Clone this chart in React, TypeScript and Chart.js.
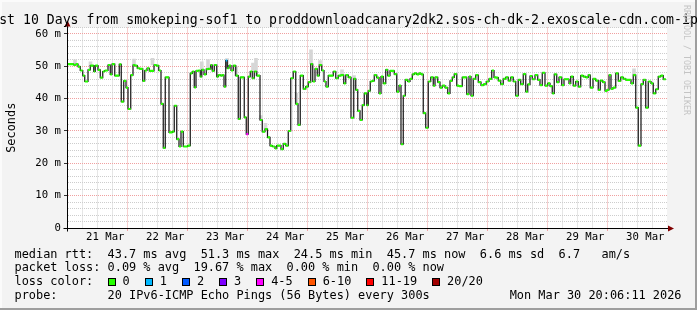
import React, { useEffect, useRef } from "react";
import { Chart, registerables } from "chart.js";

Chart.register(...registerables);

// ---------- text ----------
const TITLE = "Last 10 Days from smokeping-sof1 to proddownloadcanary2dk2.sos-ch-dk-2.exoscale-cdn.com-ipv6";
const Y_LABEL = "Seconds";
const WATERMARK = "RRDTOOL / TOBI OETIKER";
const LEGEND_RTT = "median rtt:  43.7 ms avg  51.3 ms max  24.5 ms min  45.7 ms now  6.6 ms sd  6.7   am/s";
const LEGEND_LOSS = "packet loss: 0.09 % avg  19.67 % max  0.00 % min  0.00 % now";
const LEGEND_COLOR_TITLE = "loss color:";
const LEGEND_PROBE = "probe:       20 IPv6-ICMP Echo Pings (56 Bytes) every 300s";
const DATE_TEXT = "Mon Mar 30 20:06:11 2026";

// ---------- axes ----------
const START_DAY = 20 + 20.7 / 24; // 20 Mar 20:42
const SPAN_DAYS = 10;
const DAY_LABELS = ["21 Mar", "22 Mar", "23 Mar", "24 Mar", "25 Mar", "26 Mar", "27 Mar", "28 Mar", "29 Mar", "30 Mar"];
const Y_MAX = 62;
const Y_STEP = 2;
const X_STEP_DAYS = 0.25;

// ---------- loss colours ----------
const LOSS_LABELS = ["0", "1", "2", "3", "4-5", "6-10", "11-19", "20/20"];
const LOSS_COLORS = ["#26ff00", "#00b8ff", "#0059ff", "#7e00ff", "#ff00ff", "#ff5500", "#ff0000", "#a10000"];

// ---------- median rtt (ms), hours since start ----------
const HOURS = [
  0.0, 2.7, 3.6, 4.4, 5.3, 6.3, 7.1, 8.4, 9.3, 10.7, 11.3, 12.4, 13.3, 14.3, 15.1, 16.4, 17.3, 18.0, 19.1, 20.9,
  21.7, 22.7, 23.6, 24.4, 25.5, 26.4, 27.1, 28.1, 29.1, 30.3, 31.1, 32.0, 32.9, 34.8, 35.7, 36.7, 37.6, 38.5, 39.3, 40.8,
  42.1, 42.9, 43.9, 44.8, 45.6, 46.5, 48.3, 49.3, 50.1, 50.9, 51.6, 52.5, 53.3, 53.9, 54.8, 55.7, 56.5, 57.5, 58.1, 58.9,
  59.9, 60.5, 61.5, 62.1, 62.8, 63.5, 64.1, 64.8, 65.6, 66.5, 67.5, 68.5, 69.3, 70.9, 71.7, 72.5, 73.3, 74.1, 74.9, 75.9,
  77.2, 78.1, 79.2, 80.2, 81.2, 82.1, 83.2, 83.9, 85.6, 86.5, 87.5, 88.5, 89.5, 90.5, 91.5, 92.4, 93.3, 94.5, 95.5, 96.5,
  97.5, 98.3, 99.2, 100.1, 100.9, 101.9, 102.8, 103.6, 104.5, 106.5, 107.5, 108.5, 109.6, 110.7, 111.5, 112.5, 113.6, 114.7, 115.5, 116.3,
  117.2, 118.1, 118.9, 119.9, 120.5, 121.3, 122.1, 122.9, 123.9, 124.8, 125.6, 126.5, 127.5, 128.3, 129.2, 130.9, 131.9, 132.8, 133.6, 134.5,
  135.3, 136.3, 137.2, 138.1, 138.9, 139.9, 140.8, 141.6, 142.5, 143.5, 144.5, 145.5, 146.5, 147.2, 148.3, 149.2, 150.1, 151.2, 152.3, 153.2,
  154.1, 154.9, 155.9, 156.8, 158.1, 159.9, 160.8, 161.6, 162.5, 163.5, 164.5, 165.6, 166.7, 167.7, 168.8, 169.9, 170.8, 171.6, 172.5, 173.5,
  174.5, 175.5, 176.5, 177.5, 178.5, 179.5, 180.5, 181.5, 182.5, 183.5, 184.3, 185.2, 186.1, 187.2, 188.3, 189.2, 190.1, 191.2, 192.3, 193.2,
  194.1, 194.9, 195.9, 196.8, 197.9, 198.8, 200.8, 201.5, 202.5, 203.5, 204.5, 205.5, 206.5, 207.5, 208.5, 209.3, 210.4, 211.5, 212.5, 213.3,
  214.3, 215.2, 216.0, 216.8, 217.6, 218.4, 219.5, 220.5, 221.5, 222.5, 223.5, 225.6, 226.5, 227.5, 228.5, 229.6, 230.5, 231.5, 232.5, 233.6,
  234.5, 235.5, 236.5, 237.5, 238.5,
];
const MEDIAN_MS = [
  50.7, 50.4, 50.7, 49.9, 48.7, 47.1, 45.3, 48.9, 50.2, 48.4, 50.2, 48.9, 46.5, 48.4, 48.7, 50.4, 47.5, 50.7, 47.1, 50.6,
  39.1, 45.5, 43.4, 36.8, 47.3, 50.4, 50.2, 49.4, 49.2, 45.5, 48.7, 49.4, 48.6, 50.4, 50.2, 48.7, 38.4, 24.8, 46.6, 29.6,
  29.8, 37.8, 27.5, 25.2, 29.8, 25.2, 25.5, 47.8, 48.4, 43.5, 48.6, 48.7, 46.8, 48.9, 47.5, 49.1, 49.2, 50.4, 48.6, 50.4,
  46.8, 47.3, 47.1, 47.3, 43.7, 51.8, 49.4, 50.2, 48.7, 50.2, 47.1, 33.7, 46.6, 34.2, 29.0, 46.8, 48.4, 46.3, 48.4, 47.1,
  33.4, 29.8, 30.6, 28.0, 25.5, 25.2, 24.6, 25.5, 24.4, 26.0, 25.5, 30.0, 46.3, 48.4, 38.4, 31.9, 47.1, 43.0, 43.7, 45.1,
  50.7, 45.3, 49.2, 47.1, 50.4, 48.7, 45.3, 43.7, 47.1, 48.4, 46.3, 47.1, 47.3, 44.7, 47.3, 46.6, 34.1, 46.1, 42.7, 36.2,
  33.4, 38.0, 41.6, 38.0, 42.4, 45.3, 45.5, 47.3, 46.5, 41.6, 46.8, 44.7, 48.9, 47.1, 48.6, 47.6, 42.2, 44.0, 25.9, 40.9,
  45.8, 45.3, 46.1, 47.5, 47.8, 47.5, 47.8, 47.5, 35.5, 31.0, 45.3, 46.6, 44.0, 46.6, 45.1, 43.4, 44.0, 43.4, 41.6, 45.5,
  46.6, 47.6, 44.0, 43.9, 46.6, 41.4, 46.8, 40.9, 46.1, 47.3, 45.1, 44.2, 44.5, 45.3, 46.1, 48.7, 46.6, 46.5, 45.6, 44.5,
  46.1, 46.6, 45.6, 46.6, 45.3, 40.9, 45.8, 44.5, 47.6, 42.2, 44.4, 47.0, 46.0, 47.3, 45.8, 44.2, 48.0, 44.0, 44.7, 43.9,
  41.6, 47.5, 45.1, 46.6, 44.2, 46.0, 44.7, 46.8, 44.0, 45.3, 43.7, 47.1, 46.8, 46.6, 47.3, 43.4, 46.1, 45.6, 42.7, 45.6,
  45.1, 42.4, 42.7, 47.3, 43.0, 43.4, 47.8, 45.5, 46.6, 46.1, 45.8, 44.7, 47.3, 37.2, 25.5, 44.5, 45.8, 37.2, 45.3, 44.7,
  41.6, 42.9, 46.8, 47.1, 46.0,
];
const END_HOUR = 239.5;

// points with packet loss (index into LOSS_LABELS)
const LOSS_HOURS = [63.5, 71.7];
const LOSS_LEVEL = [1, 4];

// ---------- smoke (ping spread), ms ----------
const SMOKE_HOURS = [3.2, 9.4, 26.8, 34.2, 53.9, 56.4, 64.0, 67.6, 74.4, 75.6, 77.6, 79.4, 91.8, 97.6, 101.2, 110.0, 114.8, 226.8];
const SMOKE_LOW = [50.7, 50.2, 50.4, 50.4, 48.9, 49.2, 49.4, 47.1, 48.4, 47.1, 33.4, 30.6, 38.4, 50.7, 50.4, 47.3, 46.1, 47.3];
const SMOKE_HIGH = [52.0, 51.4, 52.2, 52.5, 51.4, 52.1, 52.4, 49.9, 51.0, 52.5, 34.8, 32.4, 41.7, 55.1, 51.8, 48.9, 47.1, 49.2];

// ---------- style ----------
const MONO = "'DejaVu Sans Mono', monospace";
const MAJOR_GRID = "#f0a0a0";
const MINOR_GRID = "#cdcdcd";
const BG = "#f3f3f3";

const isWhole = (v: number) => Math.abs(v - Math.round(v)) < 1e-6;

const decorPlugin = {
  id: "rrdDecor",
  beforeDraw(chart: any) {
    const { ctx, width, height, chartArea: a } = chart;
    ctx.save();
    ctx.fillStyle = BG;
    ctx.fillRect(0, 0, width, height);
    ctx.fillStyle = "#fbfbfb";
    ctx.fillRect(0, 0, width, 2);
    ctx.fillRect(0, 0, 2, height);
    ctx.fillStyle = "#9e9e9e";
    ctx.fillRect(0, height - 2, width, 2);
    ctx.fillRect(width - 2, 0, 2, height);
    ctx.fillStyle = "#ffffff";
    ctx.fillRect(a.left, a.top, a.right - a.left, a.bottom - a.top);
    ctx.restore();
  },
  afterDraw(chart: any) {
    const { ctx, width, chartArea: a } = chart;
    ctx.save();
    // axis extensions
    const ax = Math.round(a.left - 0.5) + 0.5;
    const ay = Math.round(a.bottom - 0.5) + 0.5;
    ctx.strokeStyle = "#000";
    ctx.lineWidth = 1;
    ctx.beginPath();
    ctx.moveTo(ax - 4, ay);
    ctx.lineTo(a.right + 2, ay);
    ctx.moveTo(ax, a.top - 2);
    ctx.lineTo(ax, ay + 3);
    ctx.stroke();
    // arrows
    ctx.fillStyle = "#800000";
    ctx.beginPath();
    ctx.moveTo(ax, a.top - 7);
    ctx.lineTo(ax - 3, a.top - 1);
    ctx.lineTo(ax + 3, a.top - 1);
    ctx.closePath();
    ctx.fill();
    ctx.beginPath();
    ctx.moveTo(a.right + 7, ay);
    ctx.lineTo(a.right + 1, ay - 3);
    ctx.lineTo(a.right + 1, ay + 3);
    ctx.closePath();
    ctx.fill();

    // title
    ctx.fillStyle = "#000";
    ctx.font = `13.2px ${MONO}`;
    ctx.textAlign = "center";
    ctx.textBaseline = "alphabetic";
    ctx.fillText(TITLE, width / 2, 23.5);

    // y axis label
    ctx.save();
    ctx.font = `11.9px ${MONO}`;
    ctx.translate(15, (a.top + a.bottom) / 2);
    ctx.rotate(-Math.PI / 2);
    ctx.textAlign = "center";
    ctx.fillText(Y_LABEL, 0, 0);
    ctx.restore();

    // watermark
    ctx.save();
    ctx.font = `8.3px ${MONO}`;
    ctx.fillStyle = "#c4c4c4";
    ctx.translate(684, 5);
    ctx.rotate(Math.PI / 2);
    ctx.textAlign = "left";
    ctx.fillText(WATERMARK, 0, 0);
    ctx.restore();

    // legend
    ctx.font = `11.9px ${MONO}`;
    ctx.textAlign = "left";
    ctx.fillStyle = "#000";
    const lx = 14.5;
    const rows = [257.5, 271.4, 285.3, 299.2];
    ctx.fillText(LEGEND_RTT, lx, rows[0]);
    ctx.fillText(LEGEND_LOSS, lx, rows[1]);
    ctx.fillText(LEGEND_COLOR_TITLE, lx, rows[2]);
    ctx.fillText(LEGEND_PROBE, lx, rows[3]);
    const cw = ctx.measureText("0").width;
    let bx = lx + 13 * cw;
    LOSS_LABELS.forEach((lab, i) => {
      const x0 = Math.round(bx);
      ctx.fillStyle = "#000";
      ctx.fillRect(x0, Math.round(rows[2]) - 7, 8, 8);
      ctx.fillStyle = LOSS_COLORS[i];
      ctx.fillRect(x0 + 1, Math.round(rows[2]) - 6, 6, 6);
      ctx.fillStyle = "#000";
      ctx.fillText(lab, bx + 15, rows[2]);
      bx = bx + 15 + ctx.measureText(lab).width + 15;
    });
    ctx.textAlign = "right";
    ctx.fillText(DATE_TEXT, 681.5, rows[3]);
    ctx.restore();
  },
};

export default function App() {
  const ref = useRef<HTMLCanvasElement>(null);

  useEffect(() => {
    const canvas = ref.current;
    if (!canvas) return;
    const dayOf = (h: number) => START_DAY + h / 24;
    const lossOf = (i: number) => {
      const k = LOSS_HOURS.indexOf(HOURS[i]);
      return k >= 0 ? LOSS_LEVEL[k] : 0;
    };

    const stepData: any[] = HOURS.map((h, i) => ({ x: dayOf(h), y: MEDIAN_MS[i] }));
    stepData.push({ x: dayOf(END_HOUR), y: MEDIAN_MS[MEDIAN_MS.length - 1] });

    const segData: any[] = [];
    HOURS.forEach((h, i) => {
      const next = i + 1 < HOURS.length ? HOURS[i + 1] : END_HOUR;
      segData.push({ x: dayOf(h), y: MEDIAN_MS[i] }, { x: dayOf(next), y: MEDIAN_MS[i] }, { x: dayOf(next), y: null });
    });

    const smokeData = SMOKE_HOURS.map((h, i) => ({ x: dayOf(h), y: [SMOKE_LOW[i], SMOKE_HIGH[i]] }));

    const xTicks: { value: number }[] = [];
    for (let k = 0; ; k++) {
      const v = Math.ceil(START_DAY) + k * X_STEP_DAYS;
      if (v > START_DAY + SPAN_DAYS) break;
      xTicks.push({ value: v });
    }
    const yTicks: { value: number }[] = [];
    for (let v = 0; v <= Y_MAX; v += Y_STEP) yTicks.push({ value: v });

    const chart = new Chart(canvas, {
      type: "line",
      data: {
        datasets: [
          {
            type: "bar",
            data: smokeData,
            backgroundColor: "#d6d6d6",
            borderWidth: 0,
            barThickness: 3,
            order: 3,
          } as any,
          {
            type: "line",
            data: stepData,
            borderColor: "#111111",
            borderWidth: 1.2,
            stepped: "before",
            pointRadius: 0,
            tension: 0,
            order: 2,
          },
          {
            type: "line",
            data: segData,
            borderColor: LOSS_COLORS[0],
            borderWidth: 2.2,
            borderCapStyle: "butt",
            pointRadius: 0,
            spanGaps: false,
            tension: 0,
            order: 1,
            segment: {
              borderColor: (c: any) => LOSS_COLORS[lossOf(Math.floor(c.p0DataIndex / 3))],
            },
          } as any,
        ],
      },
      options: {
        animation: false,
        responsive: false,
        devicePixelRatio: 1,
        events: [],
        layout: { padding: { left: 0, right: 30, top: 27.5, bottom: 0 } },
        plugins: { legend: { display: false }, tooltip: { enabled: false }, title: { display: false } },
        scales: {
          x: {
            type: "linear",
            min: START_DAY,
            max: START_DAY + SPAN_DAYS,
            offset: false,
            afterBuildTicks: (s: any) => {
              s.ticks = xTicks.map((t) => ({ ...t }));
            },
            afterFit: (s: any) => {
              s.height = 82;
            },
            grid: {
              color: (c: any) => (isWhole(c.tick?.value ?? 0) ? MAJOR_GRID : MINOR_GRID),
              tickColor: (c: any) => (isWhole(c.tick?.value ?? 0) ? MAJOR_GRID : "rgba(0,0,0,0)"),
              lineWidth: 1,
              tickLength: 3,
              drawTicks: true,
            },
            border: { display: true, color: "#000", width: 1, dash: [1, 1] },
            ticks: {
              autoSkip: false,
              maxRotation: 0,
              minRotation: 0,
              padding: 0,
              color: "#000",
              font: { family: MONO, size: 10.67 },
              callback: (v: any) => {
                const val = Number(v);
                const frac = val - Math.floor(val);
                if (Math.abs(frac - 0.5) < 1e-6) {
                  const idx = Math.floor(val) - 21;
                  return DAY_LABELS[idx] ?? "";
                }
                return "";
              },
            },
          },
          y: {
            type: "linear",
            min: 0,
            max: Y_MAX,
            afterBuildTicks: (s: any) => {
              s.ticks = yTicks.map((t) => ({ ...t }));
            },
            afterFit: (s: any) => {
              s.width = 67;
            },
            grid: {
              color: (c: any) => ((c.tick?.value ?? 0) % 10 === 0 ? MAJOR_GRID : MINOR_GRID),
              tickColor: (c: any) => ((c.tick?.value ?? 0) % 10 === 0 ? "#333" : "rgba(0,0,0,0)"),
              lineWidth: 1,
              tickLength: 3,
              drawTicks: true,
            },
            border: { display: true, color: "#000", width: 1, dash: [1, 1] },
            ticks: {
              autoSkip: false,
              padding: 3,
              color: "#000",
              font: { family: MONO, size: 10.67 },
              callback: (v: any) => {
                const val = Number(v);
                if (val % 10 !== 0) return "";
                return val === 0 ? "0" : `${val} m`;
              },
            },
          },
        },
      },
      plugins: [decorPlugin],
    } as any);

    return () => chart.destroy();
  }, []);

  return (
    <div style={{ position: "fixed", left: 0, top: 0, width: 697, height: 310 }}>
      <canvas ref={ref} width={697} height={310} style={{ display: "block" }} />
    </div>
  );
}
